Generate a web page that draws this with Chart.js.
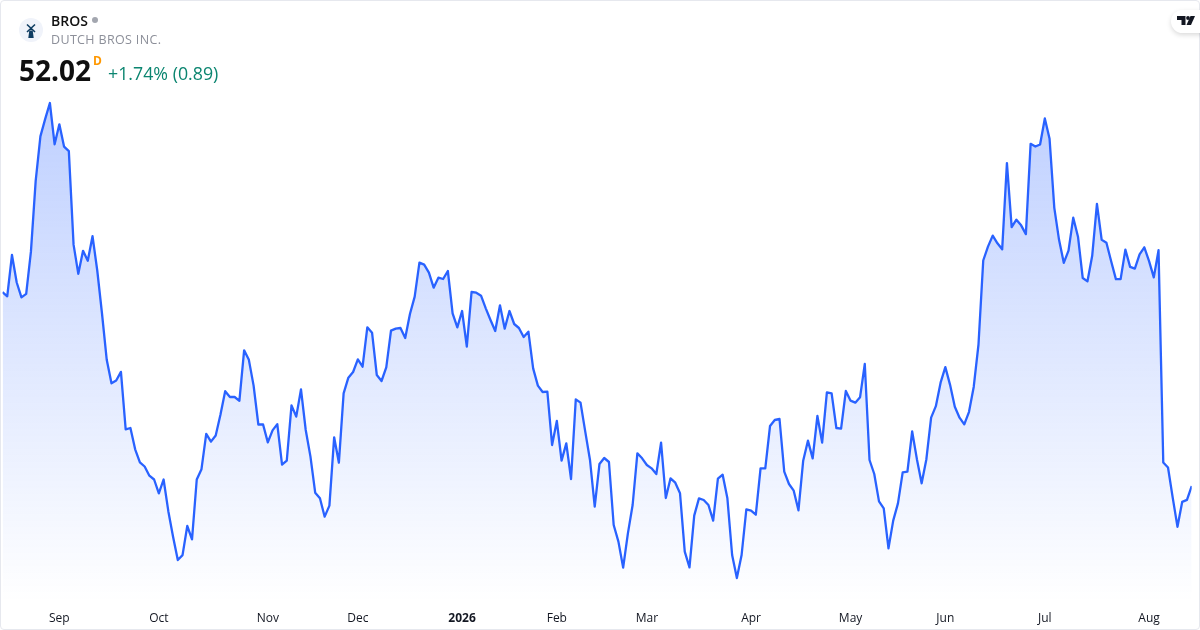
<!DOCTYPE html>
<html>
<head>
<meta charset="utf-8">
<title>BROS</title>
<script src="https://cdn.jsdelivr.net/npm/chart.js@4"></script>
<style>
html,body{margin:0;padding:0;background:#fff;}
body{width:1200px;height:630px;overflow:hidden;position:relative;font-family:"Open Sans",sans-serif;}
#card{position:absolute;left:0;top:0;width:1198px;height:628px;border:1px solid #e6e8ee;border-radius:4px;}
canvas{position:absolute;left:0;top:0;}
.t{position:absolute;white-space:nowrap;line-height:1;}
#sym{left:51px;top:14px;font-size:14px;font-weight:600;color:#111;}
#dot{position:absolute;left:92px;top:17px;width:6px;height:6px;border-radius:50%;background:#a3a6af;}
#name{left:51px;top:34px;font-size:12.5px;color:#8c8f99;letter-spacing:.35px;}
#price{left:19px;top:56px;font-size:28px;font-weight:700;color:#0f0f0f;}
#d{left:93px;top:55px;font-size:12px;font-weight:700;color:#ff9800;}
#chg{left:108px;top:65px;font-size:17.8px;color:#0b8570;}
#logo{position:absolute;left:19px;top:18px;}
#tv{position:absolute;left:1171px;top:10px;width:40px;height:23px;border-radius:12px;background:#fff;box-shadow:0 2px 5px rgba(0,0,0,.15);}
</style>
</head>
<body>
<div id="card"></div>
<canvas id="chart" width="1200" height="630"></canvas>

<svg id="logo" width="24" height="24" viewBox="0 0 24 24">
<circle cx="12" cy="12" r="12" fill="#f0f3fa"/>
<path d="M9.3 20 L10.3 12.5 L13.7 12.5 L14.7 20 Z M10.5 12 L12 9.5 L13.5 12 Z" fill="#0f3d62"/>
<path d="M8 6.5 L16 14 M16 6.5 L8 14" stroke="#0f3d62" stroke-width="1.6" fill="none"/>
</svg>
<div id="tv"><svg width="30" height="23" viewBox="0 0 30 23" style="position:absolute;left:0;top:0">
<path d="M6 6 H14.5 V15 H10.5 V10 H6 Z" fill="#131722"/>
<circle cx="17" cy="8" r="1.9" fill="#131722"/>
<path d="M19.5 6 H24 L20 15 H15.5 Z" fill="#131722"/>
</svg></div>

<div class="t" id="sym">BROS</div>
<div id="dot"></div>
<div class="t" id="name">DUTCH BROS INC.</div>
<div class="t" id="price">52.02</div>
<div class="t" id="d">D</div>
<div class="t" id="chg">+1.74% (0.89)</div>

<script>
let closes = [
63.65,63.40,65.88,64.23,63.34,63.55,66.08,70.31,73.00,74.03,75.00,72.52,73.72,72.38,72.11,66.50,64.75,66.13,65.53,67.01,
64.95,62.37,59.59,58.18,58.35,58.87,55.42,55.50,54.22,53.44,53.19,52.64,52.41,51.58,52.41,50.51,48.97,47.58,47.87,49.62,
48.82,52.41,53.03,55.15,54.68,55.05,56.29,57.71,57.36,57.36,57.13,60.16,59.59,58.04,55.71,55.71,54.64,55.36,55.73,53.30,
53.54,56.86,56.18,57.82,55.38,53.78,51.62,51.28,50.18,50.84,54.94,53.42,57.58,58.52,58.86,59.62,59.18,61.54,61.22,58.68,
58.32,59.14,61.34,61.46,61.50,60.90,62.34,63.38,65.42,65.30,64.82,63.92,64.52,64.44,64.92,62.38,61.54,62.52,60.38,63.66,
63.62,63.44,62.68,61.98,61.32,62.86,61.46,62.52,61.74,61.50,60.96,61.28,59.08,58.04,57.66,57.68,54.48,55.92,53.54,54.58,
52.44,57.22,57.02,55.28,53.58,50.78,53.34,53.70,53.46,49.68,48.68,47.12,49.18,50.88,53.98,53.68,53.28,53.08,52.74,54.62,
51.30,52.48,52.22,51.58,48.08,47.14,50.24,51.28,51.18,50.88,49.94,52.46,52.70,51.28,47.88,46.50,47.88,50.62,50.54,50.30,
53.08,53.08,55.62,55.98,56.04,52.88,52.14,51.74,50.56,53.54,54.74,53.68,56.22,54.62,57.64,57.58,55.50,55.46,57.72,57.14,
57.02,57.34,59.34,53.58,52.74,51.10,50.68,48.28,49.94,50.98,52.84,52.88,55.29,53.63,52.18,53.63,56.12,56.81,58.22,59.15,
58.09,56.77,56.12,55.72,56.47,57.98,60.51,65.55,66.38,67.04,66.58,66.22,71.39,67.55,68.00,67.66,67.13,72.55,72.39,72.51,
74.07,72.85,68.71,66.79,65.41,66.14,68.12,66.98,64.50,64.30,65.83,68.95,66.79,66.62,65.51,64.43,64.43,66.20,65.17,65.06,
65.92,66.34,65.51,64.54,66.17,53.43,53.13,51.31,49.57,51.07,51.19,52.02
]

let tickLabels = ["Sep","Oct","Nov","Dec","2026","Feb","Mar","Apr","May","Jun","Jul","Aug"]
let tickIndexes = [12,33,56,75,97,117,136,158,179,199,220,242]

let points = closes.map((c,i)=>({x:i,y:c}))

new Chart(document.getElementById("chart"),{

type:"line",

data:{
datasets:[{
data:points,
borderColor:"#2962FF",
borderWidth:2.3,
borderJoinStyle:"round",
pointRadius:0,
tension:0,
fill:"start",
backgroundColor:function(ctx){
let area = ctx.chart.chartArea
if(!area) return "rgba(41,98,255,0.28)"
let g = ctx.chart.ctx.createLinearGradient(0,100,0,area.bottom)
g.addColorStop(0,"rgba(41,98,255,0.3)")
g.addColorStop(1,"rgba(41,98,255,0)")
return g
}
}]
},

options:{
responsive:false,
animation:false,
layout:{padding:{left:2.5,right:8.3,top:90,bottom:0}},
plugins:{legend:{display:false},tooltip:{enabled:false}},
scales:{
x:{
type:"linear",
min:0,
max:closes.length-1,
grid:{display:false},
border:{display:false},
afterBuildTicks:function(scale){
scale.ticks = tickIndexes.map(v=>({value:v}))
},
afterFit:function(scale){
scale.height = 28
},
ticks:{
autoSkip:false,
maxRotation:0,
padding:1,
color:"#131722",
font:function(ctx){
let bold = ctx.tick && tickLabels[tickIndexes.indexOf(ctx.tick.value)]=="2026"
return {family:"'Open Sans'",size:12,weight:bold?"bold":"normal"}
},
callback:function(value){
return tickLabels[tickIndexes.indexOf(value)]
}
}
},
y:{
display:false,
min:45.06,
max:75.78
}
}
}

})
</script>
</body>
</html>
